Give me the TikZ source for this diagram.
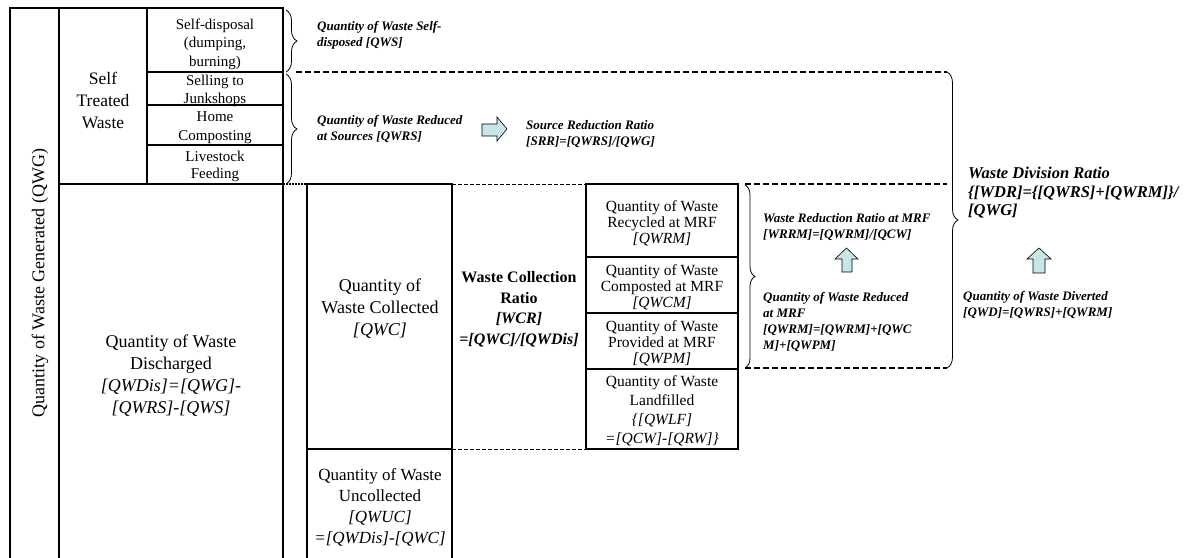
\documentclass[tikz,border=0pt]{standalone}
\usepackage{fontspec}
\setmainfont{Liberation Serif}
\usetikzlibrary{decorations.pathreplacing}
\definecolor{arrowfill}{RGB}{200,230,234}
\newcommand\setfs[2]{\fontsize{#1bp}{#2bp}\selectfont}
\begin{document}
\begin{tikzpicture}[x=1bp,y=-1bp,
  box/.style={line width=1.4bp},
  lbl/.style={inner sep=0pt, align=center},
  note/.style={inner sep=0pt, align=left, anchor=west,
    font=\setfs{13}{16}\bfseries\itshape},
  heavydash/.style={line width=1.5bp, dash pattern=on 6bp off 3bp},
  lightdash/.style={line width=0.8bp, dash pattern=on 3.5bp off 2.5bp},
  dotline/.style={line width=1.2bp, dash pattern=on 1.5bp off 1.5bp},
  curly/.style={line width=0.8bp, decorate, decoration={brace, amplitude=#1}},
  blockarrow/.style={draw=black, line width=0.6bp, fill=arrowfill, line join=miter}
]
\useasboundingbox (0,0) rectangle (1199,558);

% ---- generated waste column and self treated block ----
\draw[box] (10,558) -- (10,8) -- (283,8) -- (283,558);
\draw[box] (59,8) -- (59,558);
\draw[box] (147,8) -- (147,184);
\draw[box] (147,72) -- (283,72);
\draw[box] (147,105) -- (283,105);
\draw[box] (147,145) -- (283,145);
\draw[box] (59,184) -- (283,184);

% ---- collected / uncollected ----
\draw[box] (307,558) -- (307,184) -- (452,184) -- (452,558);
\draw[box] (307,449) -- (452,449);
\draw[dotline] (283,184) -- (307,184);
\draw[lightdash] (452,184) -- (586,184);
\draw[lightdash] (452,449) -- (586,449);

% ---- MRF stack ----
\draw[box] (586,184) rectangle (738,449);
\draw[box] (586,257) -- (738,257);
\draw[box] (586,313) -- (738,313);
\draw[box] (586,369) -- (738,369);

% ---- dashed guides ----
\draw[heavydash] (296,72) -- (947,72);
\draw[heavydash] (745,184) -- (947,184);
\draw[heavydash] (745,368) -- (947,368);

% ---- braces ----
\draw[curly=11bp] (286,10) -- (286,72);
\draw[curly=11bp] (286,74) -- (286,184);
\draw[curly=10bp] (745,185) -- (745,368);
\draw[curly=11bp] (947,72) -- (947,368);

% ---- block arrows ----
\draw[blockarrow] (482,124) -- (497,124) -- (497,117) -- (507,129)
  -- (497,141) -- (497,136) -- (482,136) -- cycle;
\draw[blockarrow] (842,272) -- (842,259) -- (835,259) -- (846.5,248)
  -- (858,259) -- (852,259) -- (852,272) -- cycle;
\draw[blockarrow] (1033,273) -- (1033,259) -- (1027,259) -- (1039,248)
  -- (1051,259) -- (1045,259) -- (1045,273) -- cycle;

% ---- cell texts ----
\node[lbl, rotate=90, font=\setfs{18}{22}] (qwg) at (40,283) {Quantity of Waste Generated (QWG)};
\node[lbl, font=\setfs{17.5}{22}] (stw) at (103,100) {Self\\Treated\\Waste};
\node[lbl, font=\setfs{15}{18.5}] (sd) at (215,44) {Self-disposal\\(dumping,\\burning)};
\node[lbl, font=\setfs{15}{18}] (sj) at (215,91) {Selling to\\Junkshops};
\node[lbl, font=\setfs{15}{19}] (hc) at (215,127.5) {Home\\Composting};
\node[lbl, font=\setfs{15}{17.5}] (lf) at (215,166.5) {Livestock\\Feeding};
\node[lbl, font=\setfs{18}{22}] (dis) at (171,376)
  {Quantity of Waste\\Discharged\\\textit{[QWDis]=[QWG]-}\\\textit{[QWRS]-[QWS]}};
\node[lbl, font=\setfs{18}{22}] (qwc) at (380,309)
  {Quantity of\\Waste Collected\\\textit{[QWC]}};
\node[lbl, font=\setfs{16}{20.5}\bfseries] (wcr) at (519,309)
  {Waste Collection\\Ratio\\\textit{[WCR]}\\\textit{=[QWC]/[QWDis]}};
\node[lbl, font=\setfs{15.5}{16}] (rec) at (662,223)
  {Quantity of Waste\\Recycled at MRF\\\textit{[QWRM]}};
\node[lbl, font=\setfs{15.5}{16}] (com) at (662,287)
  {Quantity of Waste\\Composted at MRF\\\textit{[QWCM]}};
\node[lbl, font=\setfs{15.5}{16}] (pro) at (662,343)
  {Quantity of Waste\\Provided at MRF\\\textit{[QWPM]}};
\node[lbl, font=\setfs{15.5}{19}] (lnd) at (662,411)
  {Quantity of Waste\\Landfilled\\\textit{\{[QWLF]}\\\textit{=[QCW]-[QRW]\}}};
\node[lbl, font=\setfs{17}{21}] (qwuc) at (380,507)
  {Quantity of Waste\\Uncollected\\\textit{[QWUC]}\\\textit{=[QWDis]-[QWC]}};

% ---- annotations ----
\node[note] (qws) at (317,35) {Quantity of Waste Self-\\disposed [QWS]};
\node[note] (qwrs) at (317,129) {Quantity of Waste Reduced\\at Sources [QWRS]};
\node[note] (srr) at (526,134) {Source Reduction Ratio\\{}[SRR]=[QWRS]/[QWG]};
\node[note] (wrrm) at (763,227.5) {Waste Reduction Ratio at MRF\\{}[WRRM]=[QWRM]/[QCW]};
\node[note] (qwrm) at (763,322) {Quantity of Waste Reduced\\at MRF\\{}[QWRM]=[QWRM]+[QWC\\M]+[QWPM]};
\node[note, font=\setfs{16.5}{18.5}\bfseries\itshape] (wdr) at (968,193)
  {Waste Division Ratio\\\{[WDR]=\{[QWRS]+[QWRM]\}/\\{}[QWG]};
\node[note] (qwd) at (963,305) {Quantity of Waste Diverted\\{}[QWD]=[QWRS]+[QWRM]};
\end{tikzpicture}
\end{document}
